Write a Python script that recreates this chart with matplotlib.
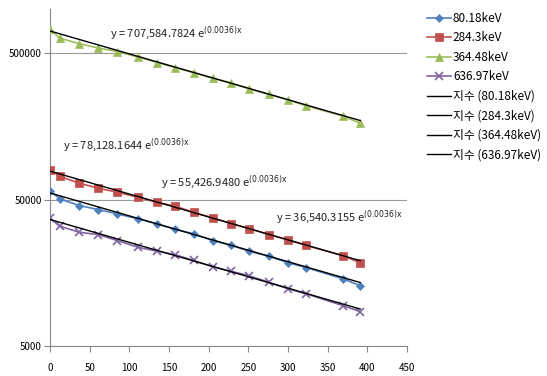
import numpy as np
import matplotlib; matplotlib.use("Agg")
import matplotlib.pyplot as plt

plt.rcParams['font.family'] = ['Noto Sans CJK KR', 'DejaVu Sans']
plt.rcParams['mathtext.fontset'] = 'dejavusans'

days = [0, 12, 37, 61, 85, 111, 135, 158, 181, 205, 228, 251, 276, 300, 323, 369, 391]
kev_80 = [57600, 50600, 45500, 42700, 39900, 36900, 34100, 31300, 29200, 26200, 24400, 22200, 20500, 18500, 17150, 14400, 12900]
kev_284 = [80100, 72100, 64600, 59700, 56100, 51800, 47900, 45000, 40900, 37500, 34300, 31700, 28800, 26500, 24300, 20700, 18500]
kev_364 = [729000, 633000, 579000, 541000, 512600, 469600, 431000, 398000, 368000, 337000, 313000, 285000, 261000, 240000, 218000, 186000, 166000]
kev_636 = [37500, 32900, 29900, 28800, 26200, 23600, 22200, 21000, 19200, 17400, 16200, 15100, 13600, 12300, 11350, 9440, 8590]

labels = ["80.18keV", "284.3keV", "364.48keV", "636.97keV"]
fit_a = [55426.9480, 78128.1644, 707584.7824, 36540.3155]
fit_k = -0.0036
fit_text = ["55,426.9480", "78,128.1644", "707,584.7824", "36,540.3155"]
text_pos = [(140, 65300), (16, 116800), (76, 688000), (285, 37700)]

colors = ["#4F81BD", "#C0504D", "#9BBB59", "#8064A2"]
markers = [("D", 4), ("s", 5.5), ("^", 6), ("x", 5.5)]

fig = plt.figure(figsize=(5.47, 3.76), dpi=100)
ax = fig.add_axes([50/547, 1-346/376, 357/547, 337/376])
series = [kev_80, kev_284, kev_364, kev_636]
h_data = []; h_fit = []
for s, lab, c, (m, ms) in zip(series, labels, colors, markers):
    h, = ax.plot(days, s, color=c, lw=1.2, marker=m, ms=ms, mew=1.2 if m == "x" else 0.5, label=lab, zorder=3)
    h_data.append(h)
xs = np.array([days[0], days[-1]])
for a, lab in zip(fit_a, labels):
    h, = ax.plot(xs, a*np.exp(fit_k*xs), color="black", lw=1.0, zorder=4, label=f"지수 ({lab})")
    h_fit.append(h)
for t, (tx, ty) in zip(fit_text, text_pos):
    ax.text(tx, ty, f"y = {t} e$^{{(0.0036)\\mathrm{{x}}}}$", fontsize=8, va="center", color="#222222")

ax.set_yscale("log")
ax.set_ylim(5000, 1.0e6)
ax.set_xlim(0, 450)
ax.set_xticks(range(0, 451, 50))
ax.set_yticks([5000, 50000, 500000])
ax.set_yticklabels(["5000", "50000", "500000"])
ax.yaxis.set_minor_locator(matplotlib.ticker.NullLocator())
ax.grid(axis="y", which="major", color="#9a9a9a", lw=0.8)
for sp in ["top", "right"]:
    ax.spines[sp].set_visible(False)
for sp in ["left", "bottom"]:
    ax.spines[sp].set_color("#888888")
ax.tick_params(axis="x", length=4, color="#888888", labelsize=7, pad=8)
ax.tick_params(axis="y", length=4, color="#888888", labelsize=7, pad=2)

fig.legend(handles=h_data + h_fit, loc="upper left", bbox_to_anchor=(421/547, 1-6/376),
           frameon=False, fontsize=8.5, handlelength=2.0, handletextpad=0.2, labelspacing=0.55,
           borderpad=0)
fig.savefig("out.png", dpi=100, facecolor="white")
